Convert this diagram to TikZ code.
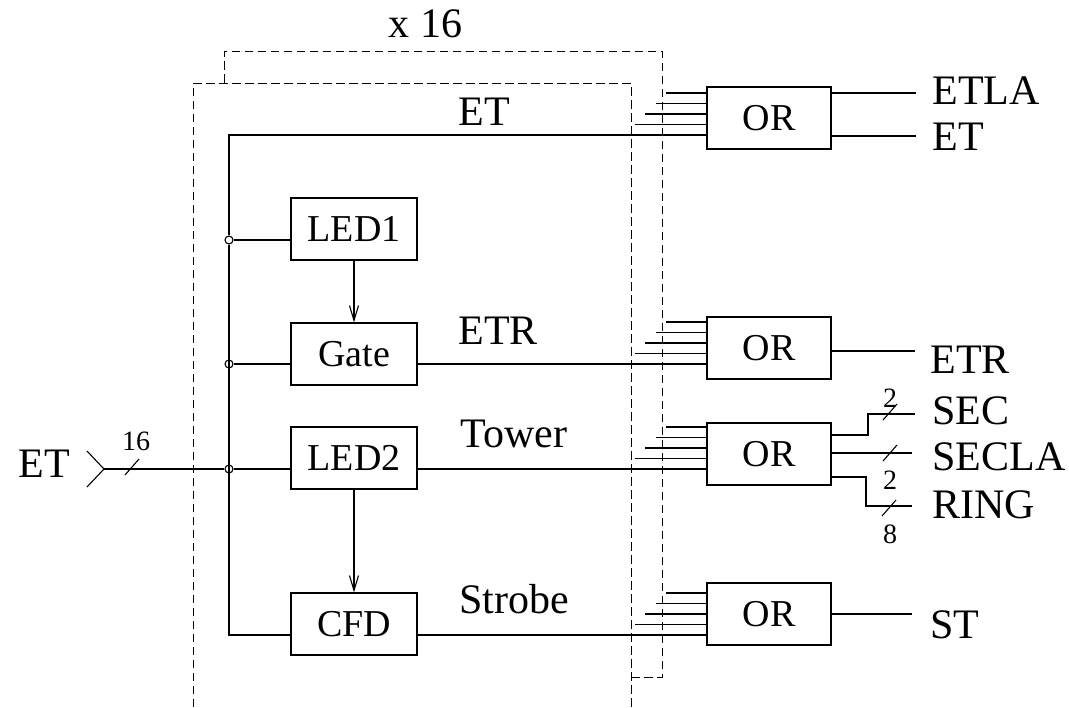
\documentclass[tikz,border=0pt]{standalone}
\usepackage{fontspec}
\setmainfont{Liberation Serif}
\usetikzlibrary{arrows.meta,positioning}

\begin{document}
\begin{tikzpicture}[
    x=0.5pt, y=-0.5pt,
    line width=0.55pt,
    blk/.style={rectangle, draw, minimum width=63pt, minimum height=31pt, inner sep=0pt, font=\fontsize{19}{21}\selectfont},
    orbox/.style={blk, minimum width=62pt},
    lbl/.style={inner sep=0pt, anchor=base west, font=\fontsize{21}{24}\selectfont},
    num/.style={inner sep=0pt, font=\fontsize{14}{16}\selectfont},
    tap/.style={circle, draw, fill=white, minimum size=4pt, inner sep=0pt},
    link/.style={-{Straight Barb[length=7.5pt, width=4.5pt]}},
    rack/.style={dash pattern=on 4.25pt off 2.25pt, line width=0.5pt},
    buswidth/.pic={\draw (-7,8) -- (7,-8);}
]
    \useasboundingbox (0,0) rectangle (1069,707);

    % Channel frames (x 16)
    \draw[rack] (631,677) -- (662,677) -- (662,51) -- (224,51) -- (224,83);
    \draw[rack] (193,707) -- (193,83) -- (631,83) -- (631,707);
    \node[lbl] (copies) at (388,37) {x 16};

    % Channel blocks
    \node[blk] (led1) at (354,229) {LED1};
    \node[blk] (gate) at (354,354) {Gate};
    \node[blk] (led2) at (354,458) {LED2};
    \node[blk] (cfd)  at (354,624) {CFD};

    % OR gates
    \node[orbox] (or1) at (769,118) {OR};
    \node[orbox] (or2) at (769,348) {OR};
    \node[orbox] (or3) at (769,454) {OR};
    \node[orbox] (or4) at (769,614) {OR};

    % Bus and taps
    \coordinate (busTop) at (229,135);
    \coordinate (busBot) at (229,635);
    \coordinate (etin) at (104,469);
    \node[tap] (t1) at (229,240) {};
    \node[tap] (t2) at (229,364) {};
    \node[tap] (t3) at (229,469) {};

    \draw (busBot -| cfd.west) -- (busBot) -- (t1) -- (busTop) -- (busTop -| or1.west);
    \draw (t1) -- (t1 -| led1.west);
    \draw (t2) -- (t2 -| gate.west);
    \draw (etin) -- (t3) -- (t3 -| led2.west);
    \draw (87,451) -- (etin) -- (87,487);
    \pic at (132,467) {buswidth};

    % Signals to the OR gates
    \draw (t2 -| gate.east) -- (t2 -| or2.west);
    \draw (t3 -| led2.east) -- (t3 -| or3.west);
    \draw (busBot -| cfd.east) -- (busBot -| or4.west);
    \draw[link] (led1) -- (gate);
    \draw[link] (led2) -- (cfd);

    % Inputs from the other channels
    \foreach \y in {135,364,469,635}
        \foreach \k/\xs in {1/635,2/645,3/656,4/666}
            \draw (\xs,{\y-10.5*\k}) -- ++({707-\xs},0);

    % Outputs
    \coordinate (etla) at (916,93);
    \coordinate (etout) at (916,136);
    \coordinate (etr) at (915,351);
    \coordinate (secb) at (868,435);
    \coordinate (sec) at (915,414);
    \coordinate (secla) at (912,453);
    \coordinate (ringb) at (866,477);
    \coordinate (ring) at (912,506);
    \coordinate (st) at (912,614);
    \draw (etla -| or1.east) -- (etla);
    \draw (etout -| or1.east) -- (etout);
    \draw (etr -| or2.east) -- (etr);
    \draw (secb -| or3.east) -- (secb) |- (sec);
    \draw (secla -| or3.east) -- (secla);
    \draw (ringb -| or3.east) -- (ringb) |- (ring);
    \draw (st -| or4.east) -- (st);
    \pic at (890,412) {buswidth};
    \pic at (890,453) {buswidth};
    \pic at (889,508) {buswidth};

    % Labels
    \node[lbl] (etinL) at (18,477) {ET};
    \node[num] (n16) at (136,441) {16};
    \node[lbl] (etL) at (458,125) {ET};
    \node[lbl] (etrL) at (458,344) {ETR};
    \node[lbl] (towerL) at (460,447) {Tower};
    \node[lbl] (strobeL) at (459,613) {Strobe};
    \node[lbl] (etlaL) at (932,104) {ETLA};
    \node[lbl] (etoutL) at (932,150) {ET};
    \node[lbl] (etrOutL) at (930,373) {ETR};
    \node[lbl] (secL) at (932,424) {SEC};
    \node[lbl] (seclaL) at (932,470) {SECLA};
    \node[lbl] (ringL) at (932,518) {RING};
    \node[lbl] (stL) at (930,638) {ST};
    \node[num] (n2a) at (890,398) {2};
    \node[num] (n2b) at (890,480) {2};
    \node[num] (n8) at (890,534) {8};
\end{tikzpicture}
\end{document}
